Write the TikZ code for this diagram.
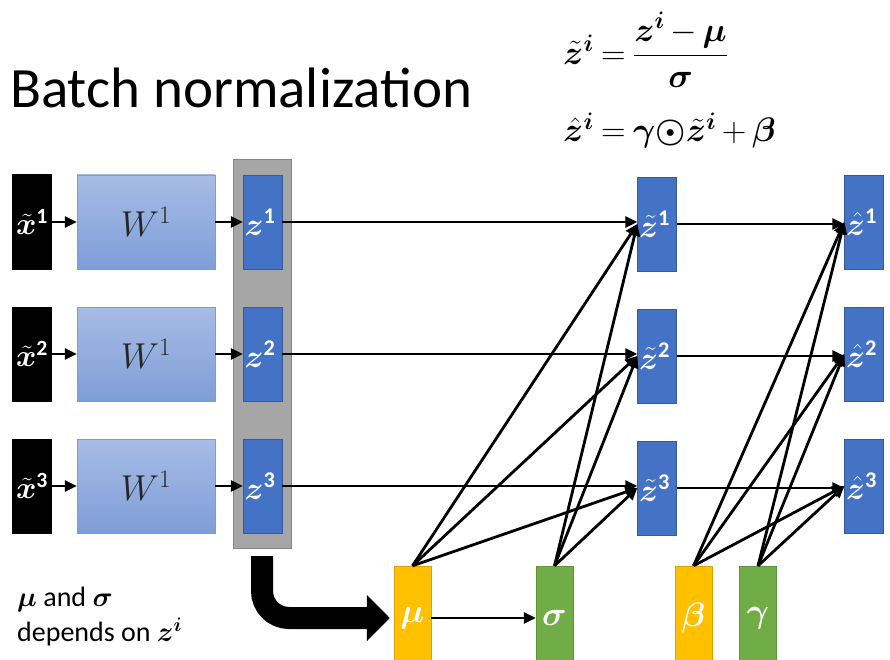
\RequirePackage{fix-cm}
\documentclass[tikz,border=0pt]{standalone}
\usepackage{fontspec}
\setmainfont{Carlito}
\usepackage{amsmath,bm}
\usetikzlibrary{arrows.meta,positioning}
\definecolor{zblue}{HTML}{4472C4}
\definecolor{wtop}{HTML}{A7BCE5}
\definecolor{wbot}{HTML}{7E9ED8}
\definecolor{zgray}{HTML}{A6A6A6}
\definecolor{porange}{HTML}{FFC000}
\definecolor{pgreen}{HTML}{70AD47}
\begin{document}
\begin{tikzpicture}[x=1pt,y=-1pt,
  arr/.style={-{Triangle[length=12pt,width=11pt]},line width=2.8pt},
  xbox/.style={fill=black,text=white,minimum width=40pt,minimum height=95pt,inner sep=0pt,font=\fontsize{31}{31}\selectfont},
  wbox/.style={top color=wtop,bottom color=wbot,draw=zblue!70,minimum width=138pt,minimum height=94pt,text=black!85,font=\fontsize{36}{36}\selectfont},
  zbox/.style={fill=zblue,draw=zblue!80!black,text=white,minimum height=94pt,text width=36pt,inner xsep=1.5pt,align=left,font=\fontsize{32}{32}\selectfont},
  pbox/.style={draw=#1!85!black,fill=#1,text=white,minimum width=37pt,minimum height=104pt,inner sep=0pt,font=\fontsize{34}{34}\selectfont}]
\path[use as bounding box,fill=white] (0,0) rectangle (890,660);
\node[anchor=base west,inner sep=0pt,font=\fontsize{57}{60}\selectfont] (title) at (10,108) {Batch normalization};
\node[anchor=west,inner sep=0pt,font=\fontsize{34}{40}\selectfont] (eqn1) at (563,50) {\thickmuskip=4mu\medmuskip=3mu$\bm{\tilde z^{i}}=\dfrac{\bm{z^{i}}-\bm{\mu}}{\bm{\sigma}}$};
\node[anchor=base west,inner sep=0pt,font=\fontsize{34}{40}\selectfont] (eqn2) at (563,142) {\thickmuskip=4mu\medmuskip=3mu$\bm{\hat z^{i}}=\bm{\gamma}{\bm{\odot}}\bm{\tilde z^{i}}+\bm{\beta}$};
\node[draw=zgray!80!black,fill=zgray,minimum width=58pt,minimum height=389pt] (zall) at (262,353.5) {};
\foreach \i/\y in {1/222,2/354,3/486}{
  \node[xbox] (xt\i) at (32,\y) {$\bm{\tilde x}^{\mathbf{\i}}$};
  \node[wbox] (w\i) at (146,\y) {$W^{1}$};
  \node[zbox] (z\i) at (262.5,\y) {$\bm{z}^{\mathbf{\i}}$};
  \node[zbox] (zt\i) at (657,\y+2) {$\bm{\tilde z}^{\mathbf{\i}}$};
  \node[zbox] (zh\i) at (864,\y) {$\bm{\hat z}^{\mathbf{\i}}$};
  \draw[arr] (xt\i) -- (w\i);
  \draw[arr] (w\i) -- (z\i);
  \draw[arr] (z\i.east) -- (z\i.east -| zt\i.west);
  \draw[arr] (zt\i.east) -- (zt\i.east -| zh\i.west);
}
\node[pbox=porange] (mu) at (412.5,618) {$\bm{\mu}$};
\node[pbox=pgreen] (sigma) at (554.5,618) {$\bm{\sigma}$};
\node[pbox=porange] (beta) at (693.5,618) {$\bm{\beta}$};
\node[pbox=pgreen] (gamma) at (758,618) {$\bm{\gamma}$};
\foreach \p/\q in {mu/zt,sigma/zt,beta/zh,gamma/zh}
  \foreach \i in {1,2,3}
    \draw[arr] (\p.north) -- (\q\i.west);
\draw[arr] (mu) -- (sigma);
\draw[line width=22pt,rounded corners=27pt,-{Triangle[length=23pt,width=45pt]},shorten <=8pt,shorten >=4pt] (zall.south) |- (mu.west);
\node[anchor=north west,align=left,inner sep=0pt,font=\fontsize{28}{35}\selectfont] (note) at (17,587) {$\bm{\mu}$ and $\bm{\sigma}$\\depends on $\bm{z}^{\bm{i}}$};
\end{tikzpicture}
\end{document}
